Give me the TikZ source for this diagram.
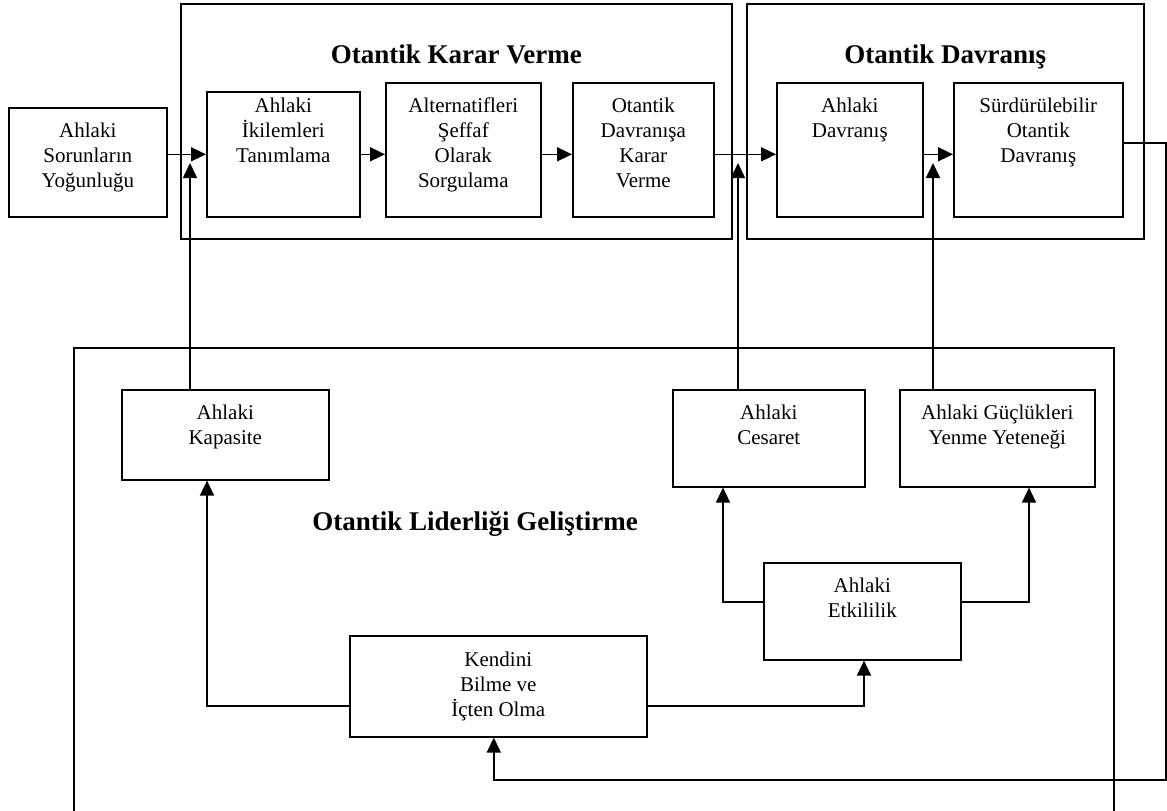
\documentclass[tikz,border=0pt]{standalone}
\usepackage{fontspec}
\setmainfont{Liberation Serif}
\usetikzlibrary{positioning, arrows.meta}

\tikzstyle{box} = [rectangle, draw = black, line width = 1.6pt, anchor = north west, inner sep = 0pt]
\tikzstyle{frame} = [rectangle, draw = black, line width = 1.6pt, anchor = north west, inner sep = 0pt]
\tikzstyle{txt} = [align = center, inner sep = 0pt, font = \fontsize{21}{25}\selectfont]
\tikzstyle{title} = [anchor = base, inner sep = 0pt, font = \fontsize{27}{32}\selectfont\bfseries]
\tikzstyle{arrow} = [line width = 1.6pt, -{Triangle[length = 15pt, width = 14pt]}]
\tikzstyle{line} = [line width = 1.6pt]

\begin{document}
\begin{tikzpicture}[x = 1pt, y = -1pt]
    \useasboundingbox (0, 0) rectangle (1167, 811);
    % frames
    \node(karar)[frame, minimum width = 551pt, minimum height = 235pt] at (180, 3) {};
    \node(davranis)[frame, minimum width = 397pt, minimum height = 235pt] at (746, 3) {};
    \draw[line] (74, 811) -- (74, 348) -- (1114, 348) -- (1114, 811);
    \node(karar_title)[title] at (karar.north |- 0, 63) {Otantik Karar Verme};
    \node(davranis_title)[title] at (davranis.north |- 0, 63) {Otantik Davranış};
    \node(gelistirme_title)[title] at (475, 530) {Otantik Liderliği Geliştirme};
    % top row
    \node(sorun)[box, minimum width = 158pt, minimum height = 109pt] at (8, 107) {};
    \node(sorun_t)[txt, below = 16pt of sorun.north] {Ahlaki\\Sorunların\\Yoğunluğu};
    \node(ikilem)[box, minimum width = 153pt, minimum height = 125pt] at (206, 91) {};
    \node(ikilem_t)[txt, below = 7pt of ikilem.north] {Ahlaki\\İkilemleri\\Tanımlama};
    \node(alter)[box, minimum width = 155pt, minimum height = 134pt] at (385, 82) {};
    \node(alter_t)[txt, below = 16pt of alter.north] {Alternatifleri\\Şeffaf\\Olarak\\Sorgulama};
    \node(kararver)[box, minimum width = 141pt, minimum height = 134pt] at (572, 82) {};
    \node(kararver_t)[txt, below = 16pt of kararver.north] {Otantik\\Davranışa\\Karar\\Verme};
    \node(ahldav)[box, minimum width = 146pt, minimum height = 134pt] at (776, 82) {};
    \node(ahldav_t)[txt, below = 16pt of ahldav.north] {Ahlaki\\Davranış};
    \node(surd)[box, minimum width = 169pt, minimum height = 134pt] at (953, 82) {};
    \node(surd_t)[txt, below = 16pt of surd.north] {Sürdürülebilir\\Otantik\\Davranış};
    % bottom part
    \node(kapasite)[box, minimum width = 207pt, minimum height = 90pt] at (121, 389) {};
    \node(kapasite_t)[txt, below = 16pt of kapasite.north] {Ahlaki\\Kapasite};
    \node(cesaret)[box, minimum width = 192pt, minimum height = 97pt] at (672, 389) {};
    \node(cesaret_t)[txt, below = 16pt of cesaret.north] {Ahlaki\\Cesaret};
    \node(guc)[box, minimum width = 195pt, minimum height = 97pt] at (899, 389) {};
    \node(guc_t)[txt, below = 16pt of guc.north] {Ahlaki Güçlükleri\\Yenme Yeteneği};
    \node(etki)[box, minimum width = 197pt, minimum height = 97pt] at (763, 562) {};
    \node(etki_t)[txt, below = 16pt of etki.north] {Ahlaki\\Etkililik};
    \node(kendini)[box, minimum width = 297pt, minimum height = 101pt] at (349, 635) {};
    \node(kendini_t)[txt, below = 17pt of kendini.north] {Kendini\\Bilme ve\\İçten Olma};
    % connector points
    \coordinate(in_kap) at (190, 163);
    \coordinate(in_ces) at (738, 163);
    \coordinate(in_guc) at (933, 163);
    \coordinate(fb) at (1166, 780);
    \coordinate(k1) at (207, 706);
    \coordinate(k2) at (864, 706);
    \coordinate(e1) at (723, 602);
    \coordinate(e2) at (1029, 602);
    % main line
    \draw[arrow] (sorun.east |- ikilem.west) -- (ikilem.west);
    \draw[arrow] (ikilem.east) -- (ikilem.east -| alter.west);
    \draw[arrow] (alter.east |- ikilem.east) -- (kararver.west |- ikilem.east);
    \draw[arrow] (kararver.east |- ikilem.east) -- (ahldav.west |- ikilem.east);
    \draw[arrow] (ahldav.east |- ikilem.east) -- (surd.west |- ikilem.east);
    \draw[arrow] (in_kap |- kapasite.north) -- (in_kap);
    \draw[arrow] (in_ces |- cesaret.north) -- (in_ces);
    \draw[arrow] (in_guc |- guc.north) -- (in_guc);
    \draw[arrow] ([yshift = 7pt]surd.east) -| (fb) -| ([xshift = -4.5pt]kendini.south);
    % inside
    \draw[arrow] (kendini.west |- k1) -- (k1) -- (k1 |- kapasite.south);
    \draw[arrow] (kendini.east |- k2) -- (k2) -- (k2 |- etki.south);
    \draw[arrow] (etki.west |- e1) -- (e1) -- (e1 |- cesaret.south);
    \draw[arrow] (etki.east |- e2) -- (e2) -- (e2 |- guc.south);
\end{tikzpicture}
\end{document}
